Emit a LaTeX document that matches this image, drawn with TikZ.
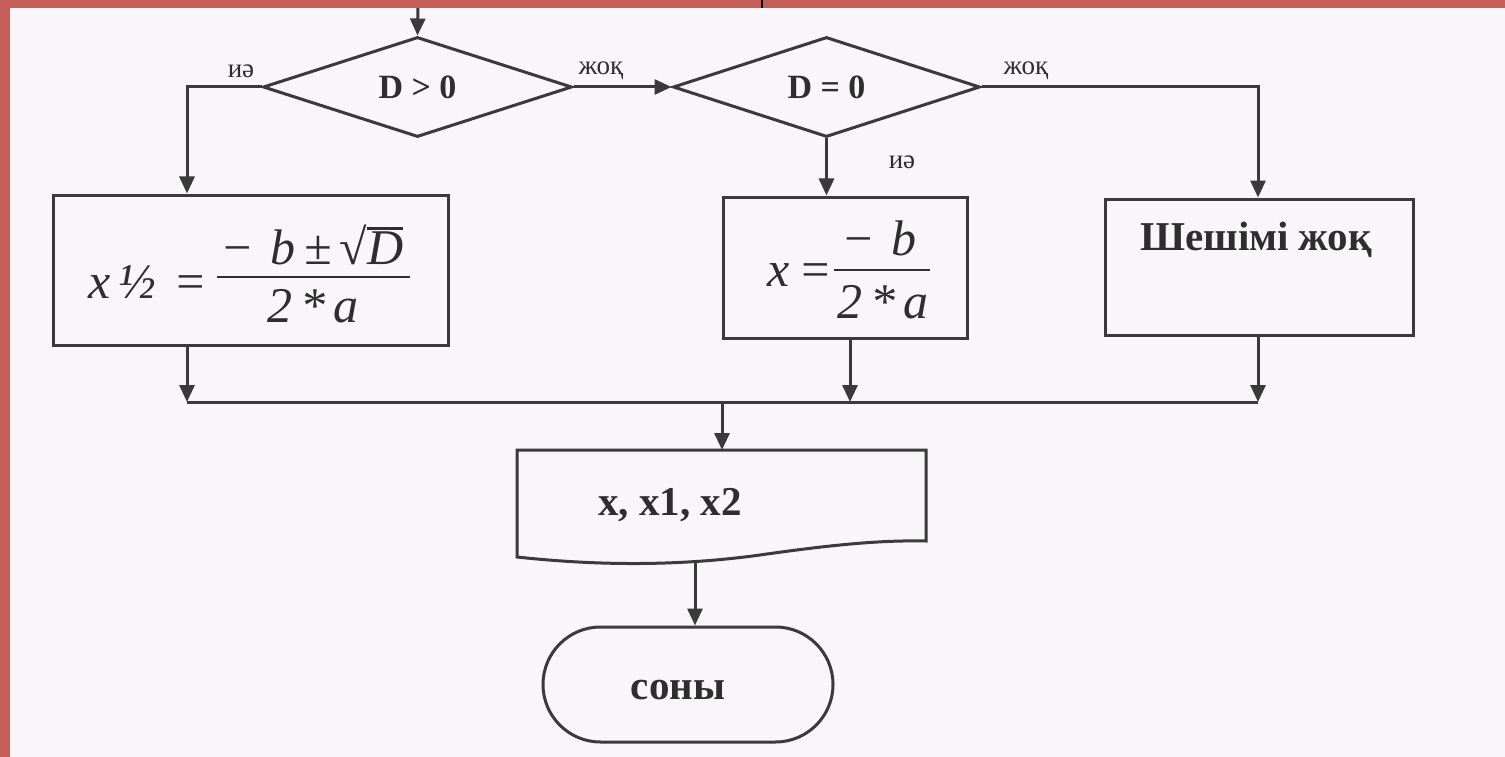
\documentclass[tikz,border=0pt]{standalone}
\usepackage{fontspec}
\setmainfont{Liberation Serif}
\usetikzlibrary{arrows.meta,shapes.geometric,shapes.misc}
\definecolor{redframe}{HTML}{C55E58}
\definecolor{paper}{HTML}{F8F6F8}
\definecolor{ink}{HTML}{3A3A3A}
\definecolor{txt}{HTML}{2E2E2E}
\newcommand{\sqbar}[1]{\rlap{\rule[0.70em]{#1}{0.05em}}}
\tikzset{
  line/.style={draw=ink, line width=3pt},
  arr/.style={line, -{Triangle[length=17pt,width=15pt]}},
  decision/.style={diamond, draw=ink, line width=3pt, inner sep=0pt, aspect=3, text=txt,
     font=\fontsize{34}{40}\selectfont\bfseries},
  procbox/.style={rectangle, draw=ink, line width=3pt, inner sep=0pt},
  lbl/.style={text=txt, font=\fontsize{27}{32}\selectfont, inner sep=0pt},
  ftext/.style={text=txt, inner sep=0pt, font=\fontsize{50}{56}\selectfont\itshape},
  fbar/.style={draw=txt, line width=2.5pt},
  btext/.style={text=txt, inner sep=0pt, font=\fontsize{41}{47}\selectfont\bfseries},
  term/.style={rounded rectangle, draw=ink, line width=3pt, inner sep=0pt,
     minimum width=290pt, minimum height=115pt}
}
\begin{document}
\begin{tikzpicture}[x=1pt,y=-1pt]
\useasboundingbox (0,0) rectangle (1505,757);
\fill[paper] (0,0) rectangle (1505,757);

% decisions
\node[decision, minimum width=309pt, minimum height=100pt] (d1) at (417.5,87) {D > 0};
\node[decision, minimum width=307pt, minimum height=100pt] (d2) at (826.5,87) {D = 0};

% process boxes
\node[procbox, minimum width=395pt, minimum height=150pt] (b1) at (250.5,270) {};
\node[procbox, minimum width=244pt, minimum height=141pt] (b2) at (845,267.5) {};
\node[procbox, minimum width=308pt, minimum height=136pt] (b3) at (1259,267) {};

% formula 1
\node[ftext, anchor=east] (f1l) at (207,282) {x\,½\,\,=};
\node[ftext] (f1n) at (312,245) {−\,\,b\,±\,√\sqbar{0.72em}D};
\node[ftext] (f1d) at (313,306) {2\,*\,a};
\draw[fbar] (217,277) -- (410,277);

% formula 2
\node[ftext, anchor=east] (f2l) at (832,275) {x\,=};
\node[ftext] (f2n) at (879,238) {−\,\,b};
\node[ftext] (f2d) at (883,302) {2\,*\,a};
\draw[fbar] (834,270) -- (930,270);

\node[btext] (t3) at (1256,240) {Шешімі жоқ};

% output document shape
\coordinate (docTop) at (722,450);
\coordinate (docBot) at (695,563);
\draw[line, line join=miter] (517,450) -- (926,450) -- (926,541)
  .. controls (880,540) and (830,545) .. (760,555)
  .. controls (680,566) and (600,566) .. (517,557) -- cycle;
\node[btext] (out) at (670,505) {x, x1, x2};

% terminal
\node[term] (end) at (688,684.5) {};
\node[btext] (endtxt) at (678,690) {соны};

% junction coordinates
\coordinate (in) at (418,0);
\coordinate (j1) at (187,402);
\coordinate (j2) at (850,402);
\coordinate (j3) at (1258,402);
\coordinate (jm) at (722,402);
\coordinate (c1) at (187,87);
\coordinate (c3) at (1258,87);

% connectors
\draw[arr] (in) -- (d1.north);
\draw[arr] (d1.west) -- (c1) -- (b1.north -| c1);
\draw[arr] (d1.east) -- (d2.west);
\draw[arr] (d2.south) -- (b2.north -| d2.south);
\draw[arr] (d2.east) -- (c3) -- (b3.north -| c3);
\draw[arr] (b1.south -| j1) -- (j1);
\draw[arr] (b2.south -| j2) -- (j2);
\draw[arr] (b3.south -| j3) -- (j3);
\draw[line] (j1) -- (j3);
\draw[arr] (jm) -- (docTop);
\draw[arr] (docBot) -- (end.north -| docBot);

% branch labels
\node[lbl] (l1) at (241,71) {иә};
\node[lbl] (l2) at (601,71) {жоқ};
\node[lbl] (l3) at (1026,71) {жоқ};
\node[lbl] (l4) at (902,162) {иә};

% red frame
\fill[redframe] (0,0) rectangle (1505,8);
\fill[redframe] (0,0) rectangle (10,757);
\draw[black, line width=2.5pt] (762,0) -- (762,8);
\end{tikzpicture}
\end{document}
